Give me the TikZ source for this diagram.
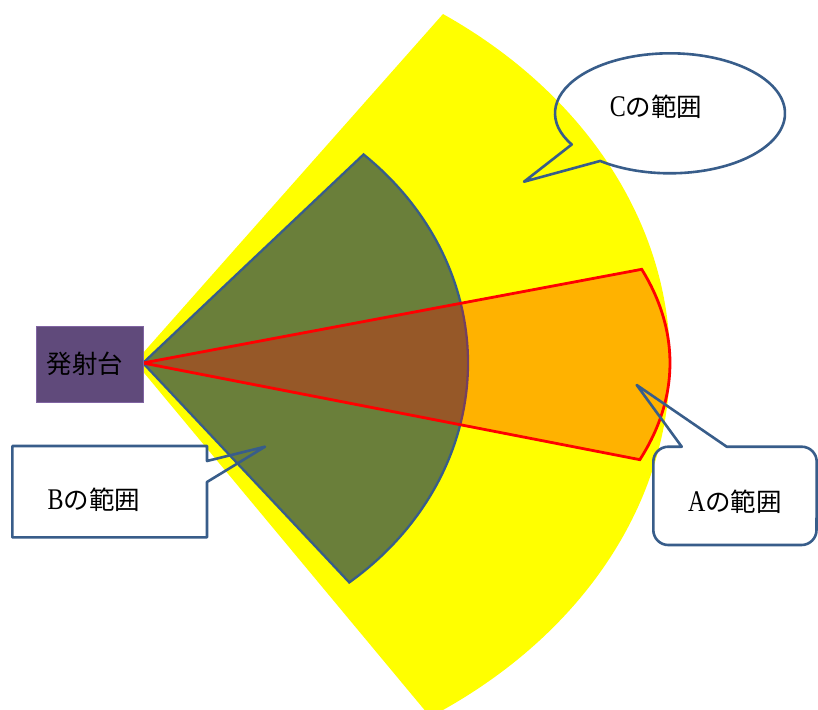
\documentclass[tikz,border=0pt]{standalone}
\usepackage{fontspec}
\setmainfont{Liberation Serif}
\newfontfamily\jp{Noto Sans CJK JP}
\newfontfamily\lat[FakeStretch=0.8]{Liberation Serif}
\definecolor{cyel}{RGB}{255,255,0}
\definecolor{cgreen}{RGB}{106,127,58}
\definecolor{cblue}{RGB}{56,93,138}
\definecolor{cpurple}{RGB}{96,74,123}
\definecolor{cpurpleedge}{RGB}{128,100,162}
\newcommand{\lbl}[2]{{\lat\fontsize{30}{32}\selectfont #1}{\jp\fontsize{25.5}{30}\selectfont #2}}
\begin{document}
\begin{tikzpicture}[x=1pt,y=1pt,
  callout/.style={draw=cblue,line width=2.6pt,line join=round},
  lbltext/.style={inner sep=0pt,text=black}]
\useasboundingbox (0,0) rectangle (818,-709);
\fill[white] (0,0) rectangle (818,-709);
\coordinate (apexY) at (135,-362);
\coordinate (apex) at (143,-363);
% C range (yellow)
\fill[cyel] (apexY) -- ++(54.85:535 and 425.6)
  arc[start angle=54.85,end angle=-56.5,x radius=535pt,y radius=425.6pt] -- cycle;
% B range (green)
\filldraw[fill=cgreen,draw=cblue,line width=2.3pt] (apex) -- ++(47.26:325 and 284)
  arc[start angle=47.26,end angle=-50.6,x radius=325pt,y radius=284pt] -- cycle;
% A range (red translucent)
\filldraw[fill=red,fill opacity=0.3,draw=red,line width=2.8pt] (apex) -- ++(18.85:527 and 290)
  arc[start angle=18.85,end angle=-19.47,x radius=527pt,y radius=290pt] -- cycle;
% launcher
\node[fill=cpurple,draw=cpurpleedge,line width=0.6pt,minimum width=107pt,minimum height=76pt,
  inner sep=0pt,anchor=north west] (launch) at (36,-326) {};
\node[lbltext] (launchtext) at (85,-364) {\jp\fontsize{25.5}{30}\selectfont 発射台};
% callout C
\coordinate (tipC) at (524,-181.7);
\draw[callout] (670,-113.3) ++(232.6:115 and 60)
  arc[start angle=232.6,end angle=571.3,x radius=115pt,y radius=60pt] -- (tipC) -- cycle;
\node[lbltext] (labelC) at (656,-107) {\lbl{C}{の範囲}};
% callout B
\coordinate (tipB) at (265,-446.7);
\draw[callout] (12.3,-446) -- (207,-446) -- (207,-461) -- (tipB) -- (207,-482)
  -- (207,-537.3) -- (12.3,-537.3) -- cycle;
\node[lbltext] (labelB) at (94,-500) {\lbl{B}{の範囲}};
% callout A
\coordinate (tipA) at (636.7,-385);
\draw[callout] (681.7,-446.7) -- (tipA) -- (726.7,-446.7) -- (801.7,-446.7)
  arc[start angle=90,end angle=0,radius=15pt] -- (816.5,-530)
  arc[start angle=0,end angle=-90,radius=15pt] -- (668.3,-545)
  arc[start angle=270,end angle=180,radius=15pt] -- (653.3,-461.7)
  arc[start angle=180,end angle=90,radius=15pt] -- cycle;
\node[lbltext] (labelA) at (735,-501.7) {\lbl{A}{の範囲}};
\end{tikzpicture}
\end{document}
